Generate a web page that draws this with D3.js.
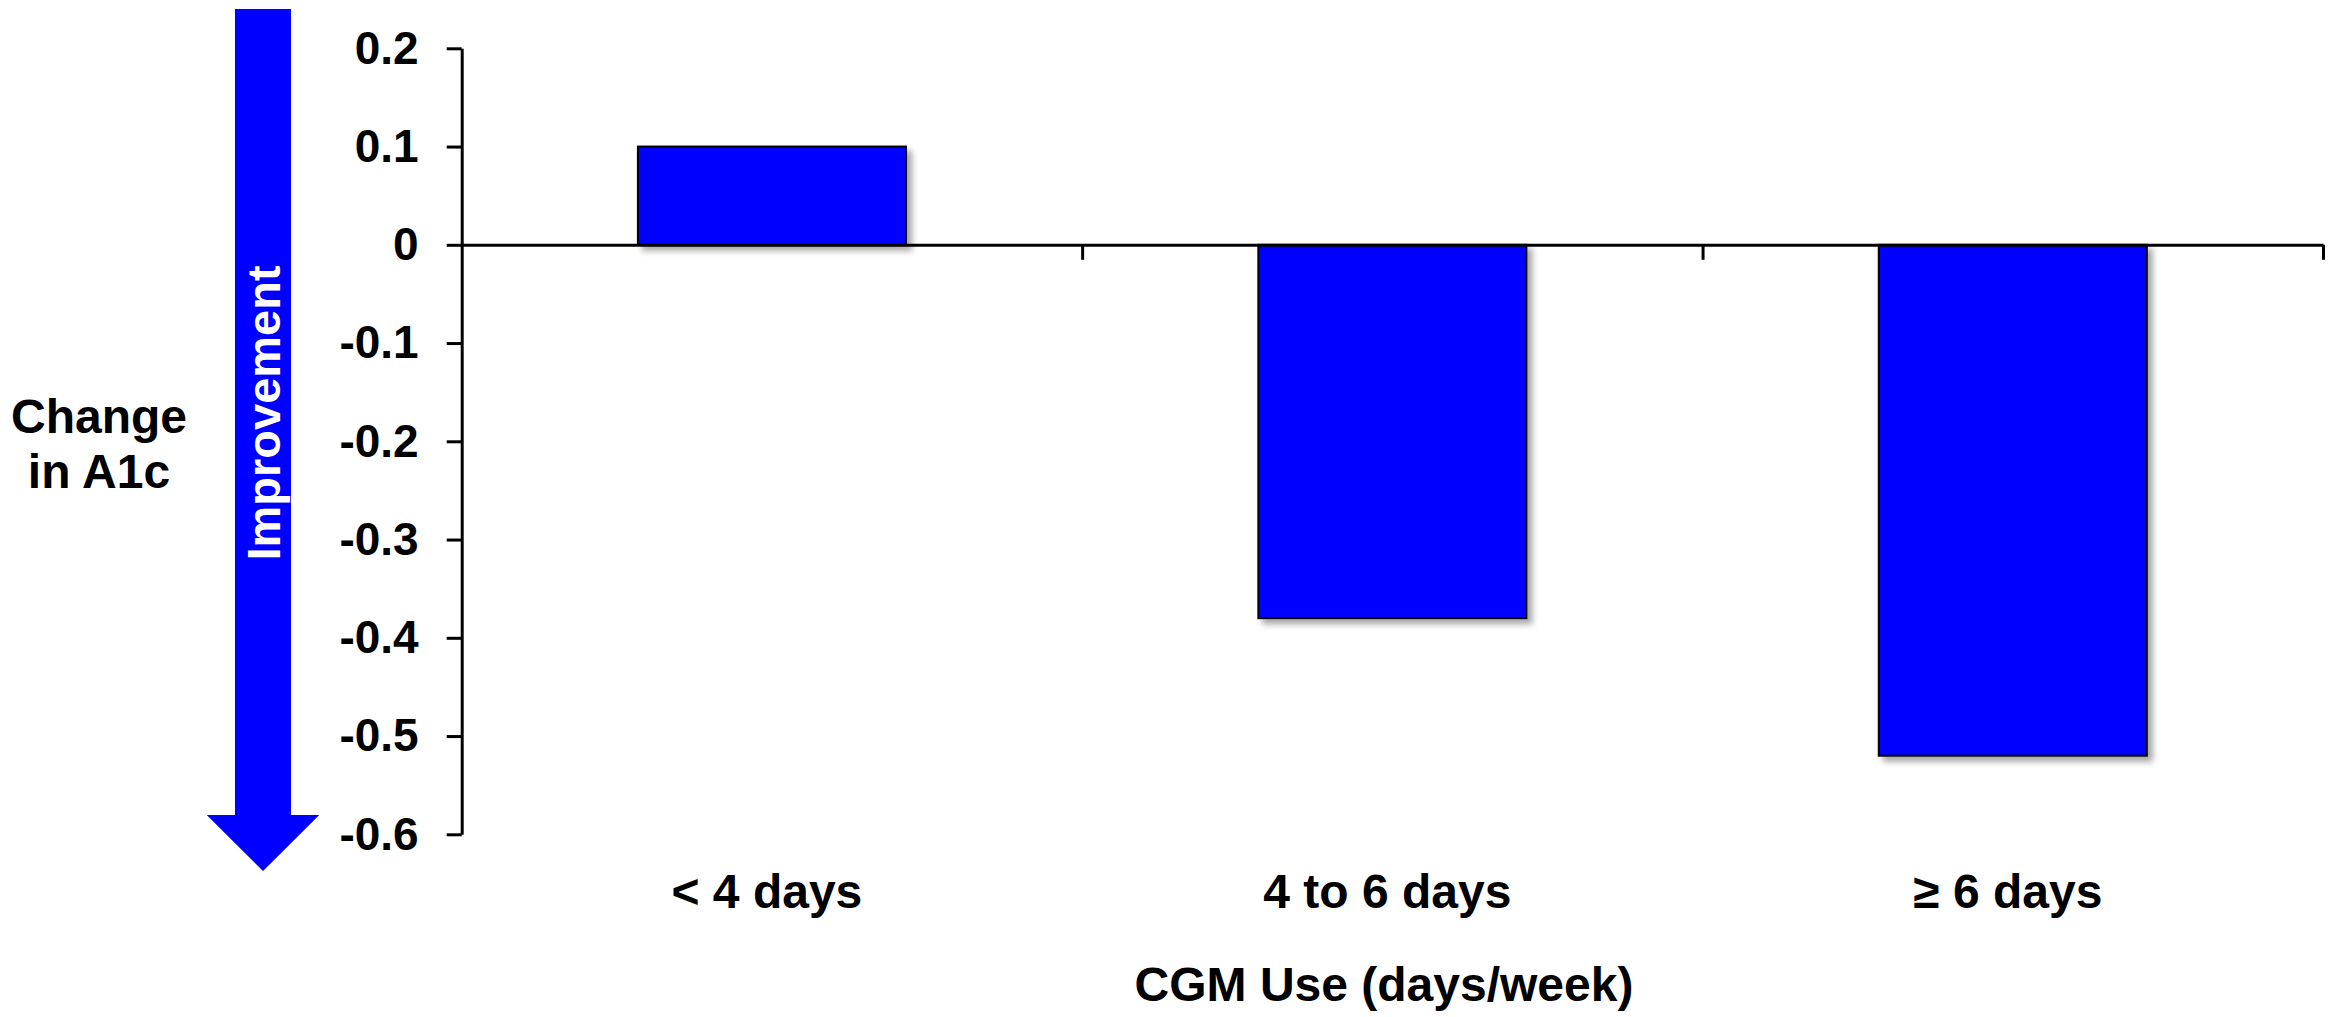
<!DOCTYPE html>
<html>
<head>
<meta charset="utf-8">
<script src="https://cdn.jsdelivr.net/npm/d3@7"></script>
<style>
  html, body { margin: 0; padding: 0; background: #fff; }
  svg { display: block; font-family: Arial, "Liberation Sans", sans-serif; font-weight: bold; }
</style>
</head>
<body>
<div id="chart"></div>
<script>
// chart data
const categories = ["< 4 days", "4 to 6 days", "\u2265 6 days"];
const changeA1c = [0.1, -0.38, -0.52];
const yTicks = [0.2, 0.1, 0, -0.1, -0.2, -0.3, -0.4, -0.5, -0.6];
const yLabelLines = ["Change", "in A1c"];
const xTitle = "CGM Use (days/week)";
const arrowLabel = "Improvement";

const W = 2333, H = 1017;
const plotLeft = 461.7, plotRight = 2323, plotTop = 48.3, plotBottom = 834.3;

const svg = d3.select("#chart").append("svg")
    .attr("width", W).attr("height", H)
    .attr("viewBox", `0 0 ${W} ${H}`);

const defs = svg.append("defs");
defs.append("filter").attr("id", "shadow")
    .attr("x", "-10%").attr("y", "-10%").attr("width", "130%").attr("height", "130%")
  .append("feDropShadow")
    .attr("dx", 5).attr("dy", 5).attr("stdDeviation", 3)
    .attr("flood-color", "#000").attr("flood-opacity", 0.35);

const y = d3.scaleLinear().domain([-0.6, 0.2]).range([plotBottom, plotTop]);
const x = d3.scaleBand().domain(categories).range([plotLeft, plotRight])
    .paddingInner(0.568).paddingOuter(0.284);
// boundaries between categories, used for the x tick marks
const xb = d3.scaleLinear().domain([0, categories.length]).range([plotLeft, plotRight]);

// bars
svg.append("g").selectAll("rect").data(changeA1c).join("rect")
    .attr("x", (d, i) => x(categories[i]))
    .attr("width", x.bandwidth())
    .attr("y", d => y(Math.max(0, d)))
    .attr("height", d => Math.abs(y(d) - y(0)))
    .attr("fill", "#0000ff")
    .attr("stroke", "#000").attr("stroke-width", 2)
    .attr("filter", "url(#shadow)");

// y axis (plain hyphen for negatives, like the original)
const yAxis = svg.append("g")
    .attr("transform", `translate(${plotLeft},0)`)
    .call(d3.axisLeft(y).tickValues(yTicks).tickSize(15).tickSizeOuter(0)
        .tickPadding(28).tickFormat(d => d === 0 ? "0" : d.toFixed(1)));
yAxis.selectAll("path, line").attr("stroke", "#000").attr("stroke-width", 3);
yAxis.selectAll("text").attr("font-size", 46).attr("font-family", null)
    .attr("font-weight", "bold").attr("fill", "#000");

// zero line with category boundary ticks
const xAxis = svg.append("g")
    .attr("transform", `translate(0,${y(0)})`)
    .call(d3.axisBottom(xb).tickValues([1, 2, 3]).tickSize(15).tickSizeOuter(0).tickFormat(""));
xAxis.selectAll("path, line").attr("stroke", "#000").attr("stroke-width", 3);

// category labels
svg.append("g").selectAll("text").data(categories).join("text")
    .attr("x", d => x(d) + x.bandwidth() / 2 - 5)
    .attr("y", 908)
    .attr("text-anchor", "middle")
    .attr("font-size", 48)
    .text(d => d);

// x title
svg.append("text")
    .attr("x", 1384).attr("y", 1001)
    .attr("text-anchor", "middle")
    .attr("font-size", 48)
    .text(xTitle);

// y title
svg.append("text")
    .attr("x", 99).attr("y", 433)
    .attr("text-anchor", "middle")
    .attr("font-size", 48)
    .selectAll("tspan").data(yLabelLines).join("tspan")
    .attr("x", 99).attr("dy", (d, i) => i === 0 ? 0 : 55)
    .text(d => d);

// improvement arrow
const arrow = d3.path();
arrow.moveTo(235, 9);
arrow.lineTo(291, 9);
arrow.lineTo(291, 815);
arrow.lineTo(319.3, 815);
arrow.lineTo(263, 871);
arrow.lineTo(206.7, 815);
arrow.lineTo(235, 815);
arrow.closePath();
svg.append("path").attr("d", arrow.toString()).attr("fill", "#0000ff");

svg.append("text")
    .attr("transform", "translate(280,413) rotate(-90)")
    .attr("text-anchor", "middle")
    .attr("font-size", 47)
    .attr("fill", "#fff")
    .text(arrowLabel);
</script>
</body>
</html>
